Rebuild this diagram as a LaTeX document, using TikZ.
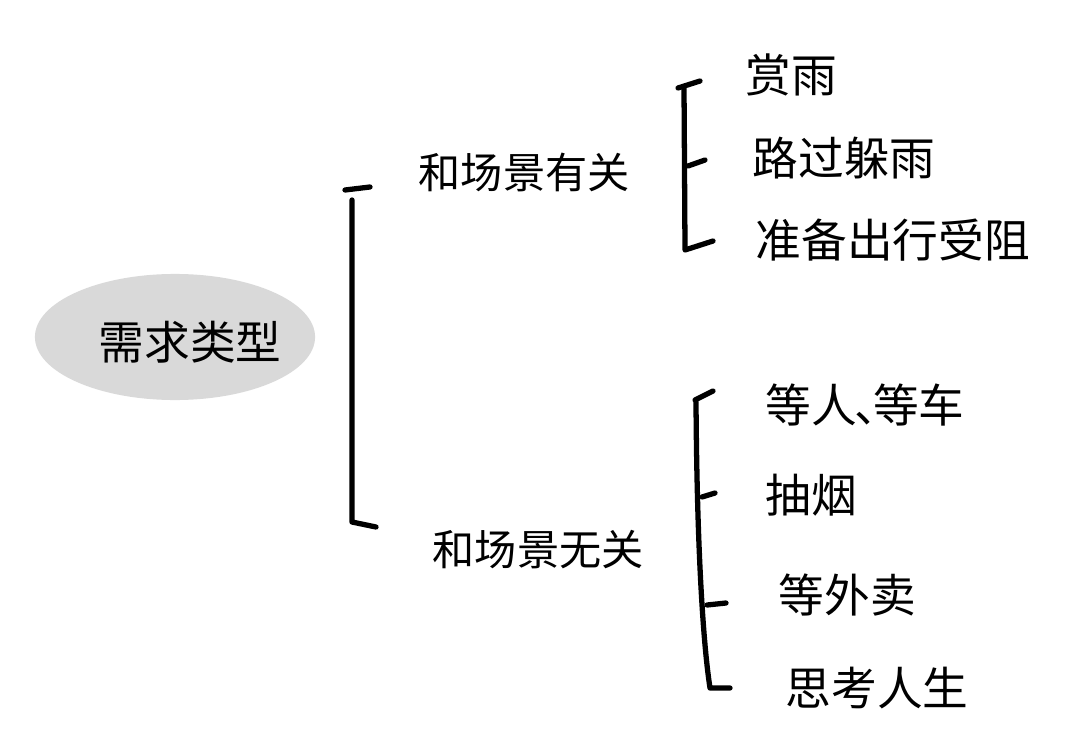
\documentclass[tikz,border=0pt]{standalone}
\usepackage{fontspec}
\newfontfamily\cjk{Noto Sans CJK SC}
\usetikzlibrary{shapes.geometric}
\definecolor{blobgray}{HTML}{D9D9D9}
\tikzset{
  hand/.style={line width=1.5pt, line cap=round, line join=round, black},
  root/.style={ellipse, fill=blobgray, minimum width=2.8cm, minimum height=1.26cm, inner sep=0pt, font=\cjk\fontsize{13}{15}\selectfont},
  mid/.style={anchor=west, inner sep=0pt, font=\cjk\fontsize{12}{14}\selectfont},
  leaf/.style={anchor=west, inner sep=0pt, font=\cjk\fontsize{13}{15}\selectfont}
}
\begin{document}
\begin{tikzpicture}[x=0.01cm, y=-0.01cm]
\useasboundingbox (0,0) rectangle (1080,752);
\node[root] (root) at (175,337) {};
\node[font=\cjk\fontsize{13}{15}\selectfont, inner sep=0pt] (rootlabel) at (190,342) {需求类型};
% main bracket
\coordinate (mt0) at (345,190);
\coordinate (mt1) at (370,187);
\coordinate (mtop) at (352,200);
\coordinate (mbot) at (352,522);
\coordinate (mend) at (376,527);
\node[mid] (rel) at (418,172) {和场景有关};
\node[mid] (unrel) at (432,550) {和场景无关};
\draw[hand] (mt0) -- (mt1);
\draw[hand] (mtop) -- (mbot) -- (mend);
% upper bracket
\coordinate (ut0) at (678,88);
\coordinate (ut1) at (700,81);
\coordinate (utop) at (684,88);
\coordinate (ubot) at (685,250);
\coordinate (uend) at (713,241);
\coordinate (um0) at (688,166);
\coordinate (um1) at (705,160);
\node[leaf] (a1) at (745,75) {赏雨};
\node[leaf] (a2) at (752,158) {路过躲雨};
\node[leaf] (a3) at (755,240) {准备出行受阻};
\draw[hand] (ut0) -- (ut1);
\draw[hand] (utop) -- (ubot) -- (uend);
\draw[hand] (um0) -- (um1);
% lower bracket
\coordinate (lt0) at (695,400);
\coordinate (lt1) at (713,391);
\coordinate (ltop) at (696,402);
\coordinate (lbot) at (710,688);
\coordinate (lend) at (730,688);
\coordinate (lm0) at (702,497);
\coordinate (lm1) at (715,493);
\coordinate (ln0) at (707,605);
\coordinate (ln1) at (726,603);
\node[leaf] (b1) at (765,405) {等人\kern-0.05em、\kern-0.6em等车};
\node[leaf] (b2) at (765,495) {抽烟};
\node[leaf] (b3) at (778,595) {等外卖};
\node[leaf] (b4) at (785,688) {思考人生};
\draw[hand] (lt0) -- (lt1);
\draw[hand] (ltop) .. controls (697,560) and (704,650) .. (lbot) -- (lend);
\draw[hand] (lm0) -- (lm1);
\draw[hand] (ln0) -- (ln1);
\end{tikzpicture}
\end{document}
